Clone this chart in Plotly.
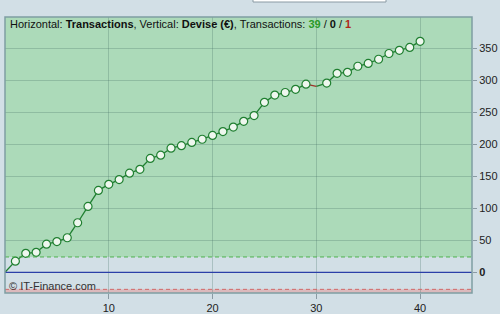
import plotly.graph_objects as go

# ---- data ----
transactions = list(range(0, 41))
equity = [0, 17.5, 29.7, 31.3, 44, 48, 54, 77.5, 103, 128, 137.5, 145, 155, 161, 178, 183,
          194, 198, 203, 208, 214, 220, 227, 236, 245, 265.6, 277, 281, 286, 294,
          290.6, 295.8, 311, 312.5, 322, 326.5, 333, 342, 347, 351.5, 361]
x_ticks = [10, 20, 30, 40]
y_ticks = [0, 50, 100, 150, 200, 250, 300, 350]
y_tick_text = ["<b>0</b>", "50", "100", "150", "200", "250", "300", "350"]
upper_band = 24
lower_band = -26.6
wins, flats, losses = 39, 0, 1

W, H = 500, 314
ML, MR, MT, MB = 5, 28, 17, 21
X_RANGE = [0, 45]
Y_RANGE = [-32.3, 399]

# segments coloured by direction
gx, gy, rx, ry = [], [], [], []
for i in range(1, len(transactions)):
    seg_x = [transactions[i - 1], transactions[i], None]
    seg_y = [equity[i - 1], equity[i], None]
    if equity[i] >= equity[i - 1]:
        gx += seg_x; gy += seg_y
    else:
        rx += seg_x; ry += seg_y
mx = [transactions[i] for i in range(1, len(transactions)) if equity[i] > equity[i - 1]]
my = [equity[i] for i in range(1, len(transactions)) if equity[i] > equity[i - 1]]

fig = go.Figure()
fig.add_trace(go.Scatter(x=gx, y=gy, mode="lines", line=dict(color="#1f7f30", width=1.3),
                         hoverinfo="skip", showlegend=False))
fig.add_trace(go.Scatter(x=rx, y=ry, mode="lines", line=dict(color="#a0302a", width=1.3),
                         hoverinfo="skip", showlegend=False))
fig.add_trace(go.Scatter(x=mx, y=my, mode="markers",
                         marker=dict(size=8, color="#eef7ee", line=dict(color="#1f7f30", width=1.2)),
                         showlegend=False))

shapes = [
    dict(type="rect", xref="x", yref="y", x0=X_RANGE[0], x1=X_RANGE[1], y0=upper_band, y1=Y_RANGE[1],
         fillcolor="#acdab9", line=dict(width=0), layer="below"),
    dict(type="rect", xref="x", yref="y", x0=X_RANGE[0], x1=X_RANGE[1], y0=Y_RANGE[0], y1=lower_band,
         fillcolor="#dcb9bc", line=dict(width=0), layer="below"),
    dict(type="line", xref="x", yref="y", x0=X_RANGE[0], x1=X_RANGE[1], y0=upper_band, y1=upper_band,
         line=dict(color="#4fb04f", width=1, dash="4px,3px")),
    dict(type="line", xref="x", yref="y", x0=X_RANGE[0], x1=X_RANGE[1], y0=lower_band, y1=lower_band,
         line=dict(color="#d06868", width=1, dash="4px,3px")),
    dict(type="line", xref="x", yref="y", x0=X_RANGE[0], x1=X_RANGE[1], y0=0, y1=0,
         line=dict(color="#2b3fa8", width=1.3)),
    dict(type="rect", xref="paper", yref="paper", x0=0, x1=1, y0=0, y1=1,
         line=dict(color="#7f9ea3", width=1.5), fillcolor="rgba(0,0,0,0)", layer="above"),
    dict(type="rect", xref="paper", yref="paper",
         x0=(253 - ML) / (W - ML - MR), x1=(386 - ML) / (W - ML - MR),
         y0=(H - MB - 2) / (H - MT - MB), y1=(H - MB + 5) / (H - MT - MB),
         fillcolor="white", line=dict(color="#8a9aa3", width=1), layer="above"),
]

title = ("Horizontal: <b>Transactions</b>, Vertical: <b>Devise (€)</b>, Transactions: "
         f"<b><span style='color:#2a9a2a'>{wins}</span></b> / <b>{flats}</b> / "
         f"<b><span style='color:#b02818'>{losses}</span></b>")

fig.update_layout(
    width=W, height=H,
    margin=dict(l=ML, r=MR, t=MT, b=MB, autoexpand=False),
    paper_bgcolor="#d2dfe6",
    plot_bgcolor="#d2dfe6",
    font=dict(family="Liberation Sans, Arial", size=11, color="#111"),
    shapes=shapes,
    annotations=[
        dict(text=title, xref="paper", yref="paper", x=(8 - ML) / (W - ML - MR),
             y=(H - MB - 24) / (H - MT - MB), xanchor="left", yanchor="middle",
             showarrow=False, font=dict(size=11, color="#111")),
        dict(text="© IT-Finance.com", xref="paper", yref="paper", x=(7 - ML) / (W - ML - MR),
             y=(H - MB - 286) / (H - MT - MB), xanchor="left", yanchor="middle",
             showarrow=False, font=dict(size=11, color="#333")),
    ],
    xaxis=dict(range=X_RANGE, tickvals=x_ticks, ticks="outside", ticklen=5, tickcolor="#8a9aa3",
               showgrid=True, gridcolor="rgba(70,110,100,0.28)", gridwidth=1, zeroline=False,
               showline=False, automargin=False, tickfont=dict(size=11, color="#222")),
    yaxis=dict(range=Y_RANGE, tickvals=y_ticks, ticktext=y_tick_text, side="right",
               ticks="outside", ticklen=4, tickcolor="#8a9aa3",
               showgrid=True, gridcolor="rgba(70,110,100,0.28)", gridwidth=1, zeroline=False,
               showline=False, automargin=False, tickfont=dict(size=11, color="#222")),
)

fig.write_html("out.html")
